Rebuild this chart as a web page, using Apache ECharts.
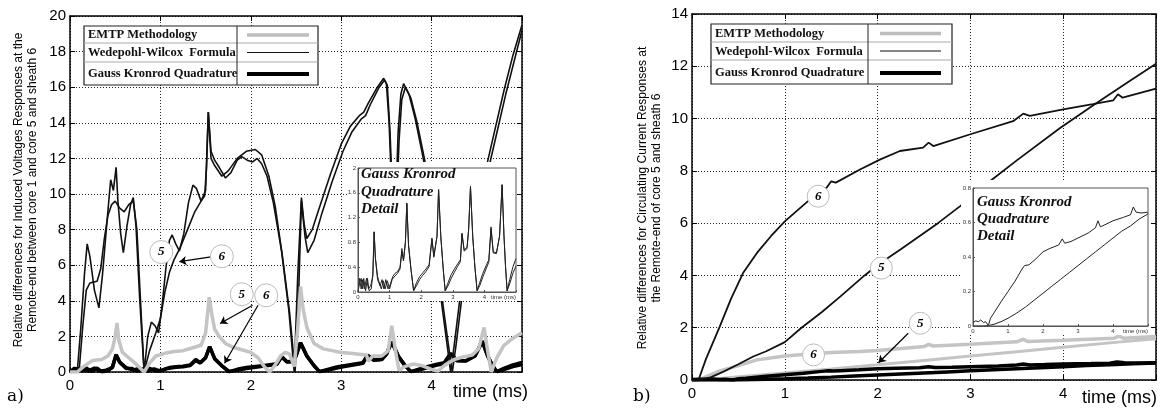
<!DOCTYPE html>
<html><head><meta charset="utf-8">
<script src="https://cdn.jsdelivr.net/npm/echarts@6/dist/echarts.min.js"></script>
<style>html,body{margin:0;padding:0;background:#fff}#c{width:1162px;height:408px}</style>
</head><body><div id="c"></div>
<script>
// ---------------- DATA ----------------
const timeTicks = [0, 1, 2, 3, 4, 5];
const legendNames = ['EMTP Methodology', 'Wedepohl-Wilcox  Formula', 'Gauss Kronrod Quadrature'];

// Panel a) Induced voltages, relative differences
const wwA_a = [[0,0],[0.08,0],[0.12,2.5],[0.16,5.5],[0.19,7.2],[0.22,6.5],[0.27,4.6],[0.32,3.6],[0.36,5.5],[0.41,8.5],[0.45,10.8],[0.48,10.2],[0.51,11.5],[0.53,9.6],[0.56,7.8],[0.59,6.7],[0.63,8.2],[0.67,9.4],[0.70,9.8],[0.73,8.2],[0.77,4.2],[0.82,0],
[0.86,2.0],[0.9,2.8],[0.94,2.6],[0.98,2.2],[1.02,3.8],[1.06,5.8],[1.1,7.4],[1.13,7.7],[1.17,7.2],[1.21,6.8],[1.26,7.8],[1.31,9.5],[1.36,10.5],[1.4,10.3],[1.45,9.6],[1.49,9.9],[1.51,11.5],[1.53,14.6],[1.56,12.4],[1.6,11.9],[1.65,11.5],[1.72,10.9],[1.78,11.2],[1.85,11.9],[1.9,12.1],[1.96,11.9],[2.02,11.8],[2.07,12.0],[2.12,11.7],[2.18,11.0],[2.25,9.5],[2.34,6.8],[2.42,3.5],[2.48,0],
[2.52,5.5],[2.56,9.8],[2.59,8.3],[2.62,7.5],[2.68,8.0],[2.75,9.1],[2.88,11.1],[3.0,12.8],[3.1,13.8],[3.2,14.4],[3.25,14.6],[3.3,15.1],[3.4,16.0],[3.47,16.5],[3.5,16.2],[3.53,14.0],[3.56,10.0],[3.58,7.0],[3.6,9.0],[3.63,13.5],[3.66,15.6],[3.69,16.2],[3.75,15.6],[3.82,14.2],[3.9,12.2],[3.96,10.6],[4.03,7.5],[4.11,3.9],[4.18,1.2],[4.21,0],[4.25,1.5],[4.31,4.0],[4.4,6.8],[4.5,9.2],[4.6,11.4],[4.7,13.6],[4.8,15.8],[4.9,17.8],[5.0,19.5]];
const wwB_a = [[0,0],[0.1,0],[0.14,2.5],[0.18,4.6],[0.22,5.0],[0.3,5.1],[0.34,5.8],[0.38,7.5],[0.42,8.8],[0.46,9.4],[0.5,9.6],[0.55,9.2],[0.6,9.0],[0.65,9.4],[0.7,9.6],[0.74,8.0],[0.78,4.0],[0.82,0],
[0.88,1.2],[0.95,2.2],[1.0,3.0],[1.05,4.5],[1.1,5.6],[1.15,6.3],[1.22,7.0],[1.3,8.0],[1.38,9.0],[1.45,9.6],[1.5,10.2],[1.53,14.6],[1.56,12.0],[1.6,11.6],[1.68,11.0],[1.75,11.3],[1.85,12.0],[1.95,12.4],[2.05,12.5],[2.12,12.2],[2.2,11.0],[2.27,9.3],[2.35,6.5],[2.43,3.3],[2.49,0],
[2.53,4.5],[2.56,9.6],[2.6,7.6],[2.63,6.7],[2.7,7.4],[2.78,8.8],[2.9,10.7],[3.02,12.4],[3.12,13.5],[3.22,14.2],[3.27,14.4],[3.32,15.0],[3.42,16.0],[3.48,16.4],[3.51,16.1],[3.54,13.5],[3.57,9.5],[3.59,7.0],[3.61,9.0],[3.64,13.0],[3.67,15.3],[3.71,16.0],[3.77,15.4],[3.84,14.0],[3.92,12.0],[3.98,10.3],[4.05,7.2],[4.13,3.6],[4.2,1.0],[4.23,0],[4.27,1.5],[4.33,4.0],[4.42,6.8],[4.52,9.0],[4.62,11.2],[4.72,13.4],[4.82,15.6],[4.92,17.6],[5.0,19.2]];
const emtp_a = [[0,0],[0.08,0],[0.15,0.3],[0.25,0.65],[0.35,0.7],[0.42,0.9],[0.47,1.3],[0.5,2.0],[0.52,2.75],[0.54,1.8],[0.58,1.1],[0.65,0.8],[0.72,0.5],[0.78,0.2],[0.82,0],[0.88,0.5],[0.95,0.9],[1.05,1.05],[1.15,1.15],[1.25,1.2],[1.35,1.35],[1.45,1.5],[1.5,2.2],[1.54,4.2],[1.57,3.2],[1.6,2.4],[1.65,2.0],[1.72,1.6],[1.8,1.4],[1.9,1.25],[2.0,1.1],[2.08,0.8],[2.15,0.3],[2.21,0],[2.27,0.4],[2.33,0.9],[2.38,1.1],[2.43,1.0],[2.48,0.3],[2.52,2.5],[2.55,4.8],[2.58,3.5],[2.62,2.5],[2.7,1.6],[2.8,1.3],[2.9,1.2],[3.0,1.1],[3.1,1.05],[3.2,1.0],[3.28,0.95],[3.3,0.6],[3.35,0.9],[3.45,0.9],[3.52,1.2],[3.56,2.6],[3.6,1.2],[3.64,0.1],[3.7,0.3],[3.8,0.45],[3.9,0.35],[4.0,0.15],[4.07,0.05],[4.15,0.4],[4.25,0.7],[4.35,0.85],[4.45,0.95],[4.52,1.3],[4.58,2.5],[4.62,1.2],[4.66,0],[4.72,0.8],[4.8,1.5],[4.9,1.9],[5.0,2.2]];
const gkA_a = [[0,0],[0.05,0.15],[0.1,0.22],[0.14,0.05],[0.18,0.22],[0.24,0.02],[0.3,0.22],[0.35,0.02],[0.42,0.05],[0.47,0.3],[0.51,0.97],[0.55,0.55],[0.62,0.25],[0.7,0.1],[0.76,0.2],[0.82,0.05],[0.88,0.2],[0.95,0.05],[1.02,0.12],[1.1,0.25],[1.17,0.3],[1.25,0.33],[1.33,0.4],[1.39,0.7],[1.44,0.52],[1.5,0.8],[1.545,1.43],[1.6,0.75],[1.68,0.35],[1.76,0.02],[1.85,0.15],[1.95,0.25],[2.05,0.31],[2.15,0.37],[2.25,0.44],[2.29,0.46],[2.34,0.87],[2.4,0.58],[2.46,0.6],[2.5,0.9],[2.55,1.65],[2.62,0.9],[2.7,0.35],[2.76,0.02],[2.85,0.15],[2.95,0.28],[3.05,0.37],[3.15,0.45],[3.24,0.52],[3.29,0.95],[3.36,0.68],[3.45,0.72],[3.5,1.0],[3.56,1.7],[3.63,0.9],[3.7,0.4],[3.77,0.02],[3.85,0.15],[3.95,0.3],[4.05,0.42],[4.14,0.52],[4.21,1.05],[4.28,0.65],[4.38,0.63],[4.48,0.9],[4.56,1.73],[4.62,0.9],[4.67,0.4],[4.72,0.02],[4.8,0.2],[4.9,0.4],[5.0,0.54]];
const gkB_a = [[0,0],[0.05,0.22],[0.1,0.05],[0.15,0.2],[0.2,0.05],[0.27,0.22],[0.33,0.05],[0.4,0.1],[0.47,0.25],[0.51,0.97],[0.55,0.55],[0.62,0.2],[0.68,0.2],[0.74,0.05],[0.8,0.18],[0.86,0.05],[0.93,0.18],[1.0,0.05],[1.08,0.2],[1.17,0.26],[1.25,0.3],[1.33,0.37],[1.39,0.65],[1.44,0.5],[1.5,0.8],[1.545,1.43],[1.6,0.75],[1.68,0.35],[1.76,0.02],[1.85,0.1],[1.95,0.2],[2.05,0.27],[2.15,0.33],[2.25,0.41],[2.29,0.44],[2.34,0.85],[2.4,0.56],[2.46,0.58],[2.5,0.9],[2.55,1.65],[2.62,0.9],[2.7,0.35],[2.76,0.02],[2.85,0.1],[2.95,0.22],[3.05,0.32],[3.15,0.41],[3.24,0.49],[3.29,0.93],[3.36,0.66],[3.45,0.7],[3.5,1.0],[3.56,1.7],[3.63,0.9],[3.7,0.4],[3.77,0.02],[3.85,0.1],[3.95,0.24],[4.05,0.37],[4.14,0.48],[4.21,1.02],[4.28,0.63],[4.38,0.62],[4.48,0.9],[4.56,1.73],[4.62,0.9],[4.67,0.4],[4.72,0.02],[4.8,0.13],[4.9,0.3],[5.0,0.42]];

// Panel b) Circulating currents, relative differences
const ww6_b = [[0,0],[0.07,0],[0.15,0.8],[0.3,2.05],[0.42,3.1],[0.55,4.09],[0.7,4.86],[0.85,5.5],[1.0,6.07],[1.25,6.84],[1.45,7.35],[1.5,7.6],[1.55,7.55],[1.81,8.05],[2.03,8.44],[2.24,8.76],[2.49,8.89],[2.55,9.08],[2.6,8.95],[3.0,9.4],[3.46,9.9],[3.57,10.19],[3.64,10.1],[4.0,10.35],[4.32,10.55],[4.54,10.7],[4.59,10.93],[4.64,10.8],[5.0,11.15]];
const ww5_b = [[0,0],[0.07,0],[0.2,0.1],[0.34,0.32],[0.5,0.6],[0.66,0.9],[0.8,1.1],[1.0,1.45],[1.18,2.0],[1.4,2.6],[1.6,3.2],[1.86,4.0],[2.0,4.4],[2.25,5.0],[2.45,5.5],[2.65,6.0],[2.89,6.65],[3.21,7.6],[3.5,8.4],[3.97,9.65],[4.36,10.6],[4.7,11.4],[5.0,12.1]];
const emtp6_b = [[0,0],[0.07,0],[0.3,0.35],[0.5,0.55],[0.7,0.77],[1.0,0.92],[1.3,1.0],[1.5,1.05],[1.81,1.09],[2.0,1.13],[2.5,1.28],[2.55,1.36],[2.6,1.3],[3.0,1.37],[3.5,1.46],[3.57,1.56],[3.62,1.47],[4.0,1.52],[4.55,1.6],[4.6,1.68],[4.65,1.6],[5.0,1.66]];
const emtp5_b = [[0,0],[0.07,0],[0.3,0.06],[0.6,0.15],[1.0,0.27],[1.5,0.42],[2.0,0.58],[2.5,0.75],[3.0,0.92],[3.5,1.08],[4.0,1.25],[4.5,1.42],[5.0,1.58]];
const gk6_b = [[0,0.02],[0.08,0.03],[0.15,0.025],[0.22,0.035],[0.3,0.02],[0.36,0.025],[0.44,0.003],[0.5,0.045],[0.58,0.07],[0.8,0.14],[1.0,0.2],[1.2,0.26],[1.4,0.33],[1.47,0.35],[1.52,0.34],[1.6,0.355],[1.8,0.39],[2.0,0.43],[2.2,0.45],[2.45,0.47],[2.55,0.505],[2.62,0.48],[2.8,0.49],[3.0,0.51],[3.3,0.54],[3.5,0.57],[3.57,0.61],[3.64,0.575],[3.8,0.59],[4.0,0.61],[4.3,0.63],[4.5,0.645],[4.58,0.69],[4.66,0.66],[4.8,0.655],[5.0,0.66]];
const gk5_b = [[0,0],[0.3,0],[0.45,0.003],[0.6,0.01],[0.8,0.025],[1.0,0.045],[1.25,0.075],[1.5,0.11],[1.75,0.15],[2.0,0.19],[2.25,0.23],[2.5,0.27],[2.75,0.31],[3.0,0.35],[3.25,0.39],[3.5,0.43],[3.75,0.47],[4.0,0.51],[4.25,0.55],[4.5,0.58],[4.75,0.62],[5.0,0.65]];

// Annotations: [text, t, value] and arrows [t0, v0, t1, v1]
const labels_a = [['5',1.01,6.74],['6',1.68,6.5],['5',1.9,4.37],['6',2.17,4.31]];
const arrows_a = [[1.56,6.47,1.21,6.2],[2.02,3.75,1.66,2.73],[2.08,3.75,1.71,0.49]];
const labels_b = [['6',1.36,7.03],['5',2.04,4.28],['5',2.46,2.17],['6',1.31,0.96]];
const arrows_b = [[2.33,1.79,2.01,0.66]];
const labels_bInset = [['6',2.0,0.4],['5',3.57,0.4]];

// ---------------- STYLE / LAYOUT ----------------
const SANS = '"Liberation Sans", Arial, sans-serif';
const SERIF = '"Liberation Serif", "Times New Roman", serif';
const G = [
  {left:70, top:16, width:452, height:356},
  {left:358, top:168, width:158, height:124},
  {left:692, top:14, width:464, height:366},
  {left:973, top:188, width:175, height:138}
];
const dotted = {show:true, lineStyle:{color:'#222', width:1, type:[1,2]}};
const frame = {show:true, onZero:false, lineStyle:{color:'#000', width:1.5}};
const tickIn = {show:true, inside:true, length:5, lineStyle:{color:'#000', width:1}};

function mainX(gi, pos) {
  return {type:'value', gridIndex:gi, position:pos, min:0, max:5, interval:1,
    axisLine:frame, axisTick:tickIn,
    axisLabel: pos === 'bottom' ? {show:true, color:'#000', fontSize:15, fontFamily:SANS, margin:6,
      formatter: v => v === 5 ? '' : String(v)} : {show:false},
    splitLine: pos === 'bottom' ? dotted : {show:false}};
}
function mainY(gi, pos, max) {
  return {type:'value', gridIndex:gi, position:pos, min:0, max:max, interval:2,
    axisLine:frame, axisTick:tickIn,
    axisLabel: pos === 'left' ? {show:true, color:'#000', fontSize:15, fontFamily:SANS, margin:4} : {show:false},
    splitLine: pos === 'left' ? dotted : {show:false}};
}
function insetX(gi) {
  return {type:'value', gridIndex:gi, position:'bottom', min:0, max:5, interval:1, z:20,
    axisLine:{show:true, onZero:false, lineStyle:{color:'#555', width:1}},
    axisTick:{show:true, inside:true, length:2, lineStyle:{color:'#555'}},
    axisLabel:{show:true, color:'#333', fontSize:6, fontFamily:SANS, margin:2, alignMaxLabel:'right',
      formatter: v => v === 5 ? 'time (ms)' : String(v)},
    splitLine:{show:false}};
}
function insetY(gi, max, step) {
  return {type:'value', gridIndex:gi, position:'left', min:0, max:max, interval:step, z:20,
    axisLine:{show:true, onZero:false, lineStyle:{color:'#555', width:1}},
    axisTick:{show:true, inside:true, length:2, lineStyle:{color:'#555'}},
    axisLabel:{show:true, color:'#333', fontSize:6, fontFamily:SANS, margin:2,
      formatter: v => String(+v.toFixed(1))},
    splitLine:{show:false}};
}
function line(name, data, ax, color, width, z) {
  return {type:'line', name, data, xAxisIndex:ax, yAxisIndex:ax, showSymbol:false, symbol:'none',
    lineStyle:{color, width}, itemStyle:{color}, z:z, silent:true, animation:false};
}
function annot(ax, labels, arrows, size, z) {
  return {type:'line', data:[], xAxisIndex:ax, yAxisIndex:ax, z:z, silent:true, animation:false,
    markLine:{silent:true, animation:false, symbol:['none','arrow'], symbolSize:7, label:{show:false},
      lineStyle:{color:'#000', width:1.2, type:'solid'},
      data: arrows.map(a => [{coord:[a[0],a[1]]},{coord:[a[2],a[3]]}])},
    markPoint:{symbol:'circle', symbolSize:size, silent:true, animation:false,
      itemStyle:{color:'#fff', borderColor:'#bcbcbc', borderWidth:1},
      label:{show:true, position:'inside', formatter:'{b}', color:'#000', fontFamily:SERIF,
        fontStyle:'italic', fontWeight:'bold', fontSize:13},
      data: labels.map(l => ({name:l[0], coord:[l[1], l[2]]}))}
  };
}

const GRAY = '#c4c4c4';
const series = [
  // panel a main (axes index 0)
  line(legendNames[2]+' 5', gkA_a, 0, '#000', 3.5, 2),
  line(legendNames[2]+' 6', gkB_a, 0, '#000', 3.5, 2),
  line(legendNames[1]+' 5', wwA_a, 0, '#111', 1.6, 3),
  line(legendNames[1]+' 6', wwB_a, 0, '#111', 1.6, 3),
  line(legendNames[0], emtp_a, 0, GRAY, 3.5, 3),
  annot(0, labels_a, arrows_a, 23, 6),
  // panel a inset (axes index 1)
  line('GK detail 5 a', gkA_a, 1, '#222', 1, 20),
  line('GK detail 6 a', gkB_a, 1, '#222', 1, 20),
  // panel b main (axes index 2)
  line(legendNames[0]+' 6', emtp6_b, 2, GRAY, 3.5, 2),
  line(legendNames[0]+' 5', emtp5_b, 2, GRAY, 3, 2),
  line(legendNames[2]+' 6', gk6_b, 2, '#000', 3.5, 3),
  line(legendNames[2]+' 5', gk5_b, 2, '#000', 3.5, 3),
  line(legendNames[1]+' 6', ww6_b, 2, '#111', 1.8, 3),
  line(legendNames[1]+' 5', ww5_b, 2, '#111', 1.8, 3),
  annot(2, labels_b, arrows_b, 22, 6),
  // panel b inset (axes index 3)
  line('GK detail 6 b', gk6_b, 3, '#222', 1, 20),
  line('GK detail 5 b', gk5_b, 3, '#222', 1, 20),
  annot(3, labels_bInset, [], 21, 22)
];

function legendBox(x, y, w, h, div, rows, lineX0, lineX1) {
  const els = [];
  els.push({type:'rect', z:30, shape:{x, y, width:w, height:h}, style:{fill:'#fff', stroke:'#222', lineWidth:1.2}});
  els.push({type:'line', z:31, shape:{x1:x, y1:rows[0].sep, x2:x+w, y2:rows[0].sep}, style:{stroke:'#aaa', lineWidth:1}});
  els.push({type:'line', z:31, shape:{x1:x, y1:rows[1].sep, x2:x+w, y2:rows[1].sep}, style:{stroke:'#aaa', lineWidth:1}});
  els.push({type:'line', z:31, shape:{x1:div, y1:y, x2:div, y2:y+h}, style:{stroke:'#222', lineWidth:1}});
  const st = [{c:'#bdbdbd', w:3.5}, {c:'#111', w:1.2}, {c:'#000', w:4}];
  rows.forEach((r, i) => {
    els.push({type:'text', z:32, x:x+4, y:r.cy, style:{text:legendNames[i], fill:'#111', align:'left', verticalAlign:'middle', textAlign:'left', textVerticalAlign:'middle', font:'bold 12.5px ' + SERIF}});
    els.push({type:'line', z:32, shape:{x1:lineX0, y1:r.ly, x2:lineX1, y2:r.ly}, style:{stroke:st[i].c, lineWidth:st[i].w}});
  });
  return els;
}
function insetTitle(x, ys) {
  return ['Gauss Kronrod', 'Quadrature', 'Detail'].map((t, i) => ({type:'text', z:26, x, y:ys[i],
    style:{text:t, fill:'#111', align:'left', verticalAlign:'middle', textAlign:'left', textVerticalAlign:'middle', font:'italic bold 15px ' + SERIF}}));
}
function txt(x, y, text, font, align, extra) {
  return Object.assign({type:'text', z:30, x, y, style:{text, fill:'#000', align, verticalAlign:'middle', textAlign:align, textVerticalAlign:'middle', font, lineHeight:14}}, extra || {});
}

const graphic = [].concat(
  [{type:'rect', z:10, shape:{x:347, y:162, width:169, height:139}, style:{fill:'#fff'}},
   {type:'rect', z:10, shape:{x:961, y:180, width:188, height:155}, style:{fill:'#fff'}},
   {type:'rect', z:21, shape:{x:G[1].left, y:G[1].top, width:G[1].width, height:G[1].height}, style:{fill:'none', stroke:'#555', lineWidth:1}},
   {type:'rect', z:21, shape:{x:G[3].left, y:G[3].top, width:G[3].width, height:G[3].height}, style:{fill:'none', stroke:'#555', lineWidth:1}}],
  legendBox(84, 26, 234, 59, 237, [{cy:34.5, ly:35, sep:43},{cy:52.5, ly:52.5, sep:62},{cy:73.5, ly:74}], 247, 309),
  legendBox(711, 24, 241, 60, 868, [{cy:33.5, ly:33.5, sep:42},{cy:51.5, ly:51, sep:60},{cy:73, ly:73}], 880, 941),
  insetTitle(361, [174, 192, 209]),
  insetTitle(977, [202, 219, 236]),
  [txt(26, 190, 'Relative differences for Induced Voltages Responses at the\nRemote-end between core 1 and core 5 and sheath 6', '12px ' + SANS, 'center', {rotation:Math.PI/2}),
   txt(650, 198, 'Relative differences for Circulating Current Responses at\nthe Remote-end of core 5 and sheath 6', '12px ' + SANS, 'center', {rotation:Math.PI/2}),
   txt(528, 392, 'time (ms)', '18px ' + SANS, 'right'),
   txt(1157, 398, 'time (ms)', '18px ' + SANS, 'right'),
   txt(7, 397, 'a)', '17px "DejaVu Serif", serif', 'left'),
   txt(633, 397, 'b)', '17px "DejaVu Serif", serif', 'left')]
);

const chart = echarts.init(document.getElementById('c'), null, {renderer:'canvas'});
chart.setOption({
  animation:false,
  backgroundColor:'#fff',
  textStyle:{fontFamily:SANS},
  grid: G.map(g => Object.assign({containLabel:false}, g)),
  xAxis: [mainX(0,'bottom'), insetX(1), mainX(2,'bottom'), insetX(3), mainX(0,'top'), mainX(2,'top')],
  yAxis: [mainY(0,'left',20), insetY(1,2,0.4), mainY(2,'left',14), insetY(3,0.8,0.2), mainY(0,'right',20), mainY(2,'right',14)],
  series: series,
  graphic: graphic
});
</script>
</body></html>
